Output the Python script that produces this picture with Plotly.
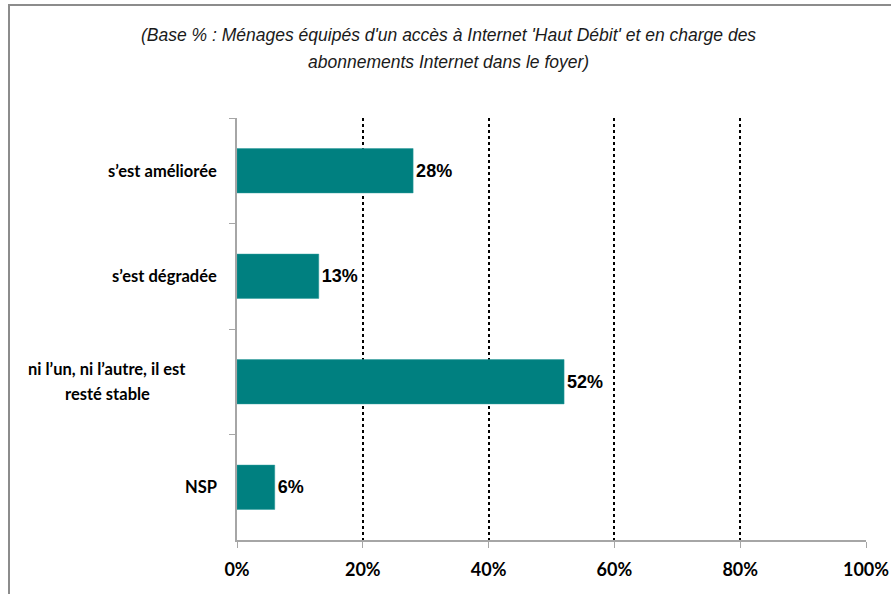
import plotly.graph_objects as go

categories = ["s’est améliorée", "s’est dégradée", "ni l’un, ni l’autre, il est\nresté stable", "NSP"]
values = [28, 13, 52, 6]
value_labels = ["28%", "13%", "52%", "6%"]
tick_vals = [0, 20, 40, 60, 80, 100]
tick_labels = ["0%", "20%", "40%", "60%", "80%", "100%"]
title_lines = ["(Base % : Ménages équipés d'un accès à Internet 'Haut Débit' et en charge des",
               "abonnements Internet dans le foyer)"]

W, H = 891, 594
L, R, T, B = 237, 25, 118, 54
pw, ph = W - L - R, H - T - B

def px_x(x):
    return (x - L) / pw

def px_y(y):
    return (H - B - y) / ph

fig = go.Figure()
fig.add_trace(go.Bar(
    x=values, y=categories, orientation="h",
    marker=dict(color="#008080", line=dict(color="#2a9a9a", width=0.5)),
    text=value_labels, textposition="outside", cliponaxis=False,
    textfont=dict(family="Liberation Sans", size=18, color="#000000", weight="bold"),
    hoverinfo="skip", width=0.42,
))

annotations = []
for i, t in enumerate(title_lines):
    annotations.append(dict(
        x=px_x(448), y=px_y(35 + 27 * i), xref="paper", yref="paper",
        text="<i>" + t + "</i>", showarrow=False, xanchor="center", yanchor="middle",
        font=dict(family="Liberation Sans", size=17.5, color="#1a1a1a")))

for c in categories:
    lines = c.split("\n")
    n = len(lines)
    for j, ln in enumerate(lines):
        shift = (n - 1) * 12.5 - j * 25
        if n == 1:
            annotations.append(dict(x=px_x(219), y=c, xref="paper", yref="y", text="<b>" + ln + "</b>",
                                    showarrow=False, xanchor="right", yanchor="middle",
                                    font=dict(family="Lato", size=16.5, color="#000000")))
        else:
            annotations.append(dict(x=px_x(107), y=c, xref="paper", yref="y", text="<b>" + ln + "</b>",
                                    showarrow=False, xanchor="center", yanchor="middle", yshift=shift,
                                    font=dict(family="Lato", size=16.5, color="#000000")))

fig.update_layout(
    width=W, height=H,
    margin=dict(l=L, r=R, t=T, b=B, pad=0, autoexpand=False),
    paper_bgcolor="white", plot_bgcolor="white",
    showlegend=False,
    annotations=annotations,
    shapes=[dict(type="rect", xref="paper", yref="paper",
                 x0=px_x(9), x1=px_x(W + 20), y0=px_y(H + 20), y1=px_y(5),
                 line=dict(color="#8c8c8c", width=2), fillcolor="rgba(0,0,0,0)", layer="below")],
    xaxis=dict(range=[0, 100], tickvals=tick_vals, ticktext=tick_labels,
               showgrid=True, gridcolor="#000000", gridwidth=2, griddash="dot",
               zeroline=False, showline=True, linecolor="#a6a6a6", linewidth=2,
               ticks="outside", ticklen=6, tickcolor="#a6a6a6", tickwidth=1,
               tickfont=dict(family="Lato", size=18, color="#000000", weight="bold"),
               ticklabelstandoff=6, fixedrange=True),
    yaxis=dict(categoryorder="array", categoryarray=categories, autorange="reversed",
               showticklabels=False, showgrid=False, zeroline=False,
               showline=True, linecolor="#a6a6a6", linewidth=2,
               ticks="outside", ticklen=6, tickcolor="#a6a6a6", tickwidth=1,
               tickson="boundaries", fixedrange=True),
)

fig.write_html("out.html", config={"displayModeBar": False},
               post_script="document.body.style.margin='0';")
